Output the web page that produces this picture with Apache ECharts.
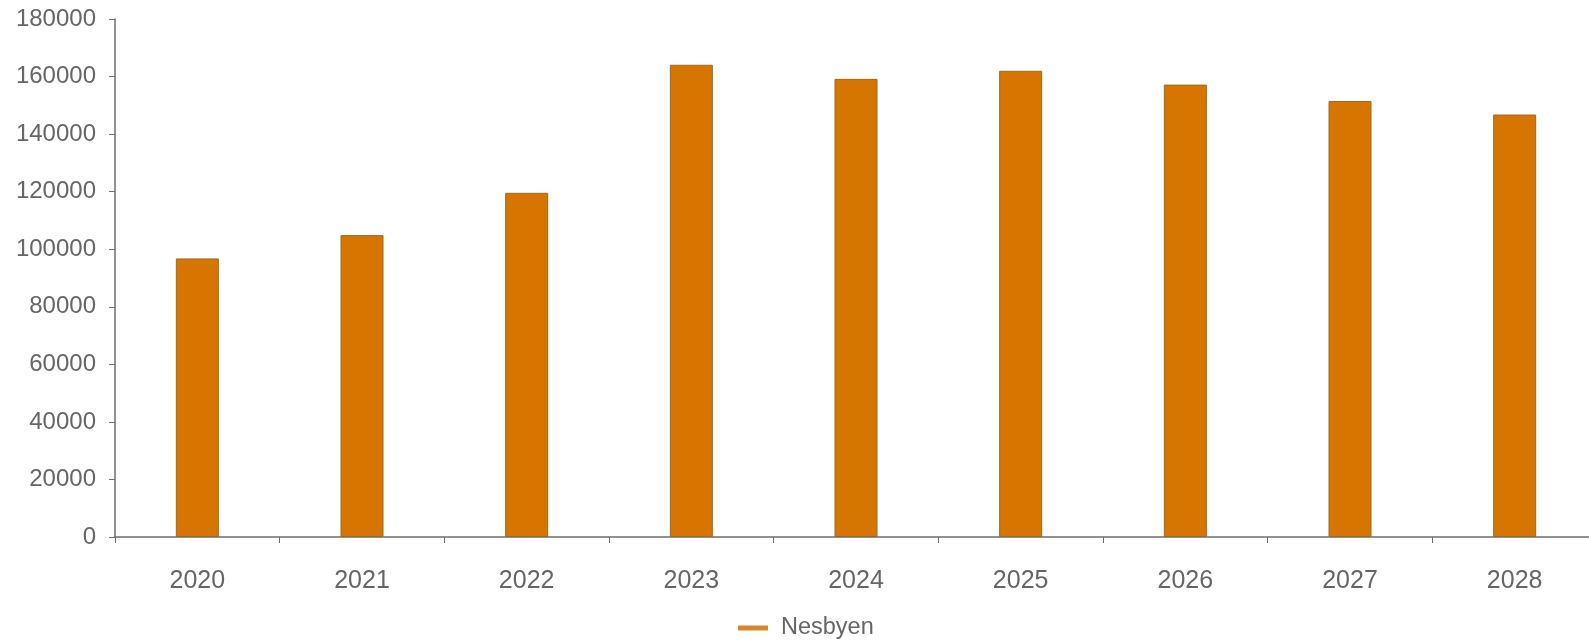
<!DOCTYPE html>
<html>
<head>
<meta charset="utf-8">
<script src="https://cdn.jsdelivr.net/npm/echarts@6/dist/echarts.min.js"></script>
<style>html,body{margin:0;padding:0;background:#fff;overflow:hidden}#c{width:1589px;height:643px}</style>
</head>
<body>
<div id="c"></div>
<script>
const categories = ['2020','2021','2022','2023','2024','2025','2026','2027','2028'];
const seriesName = 'Nesbyen';
const values = [96800, 104900, 119600, 164100, 159200, 162000, 157200, 151500, 146800];
const yTicks = { min: 0, max: 180000, interval: 20000 };

const chart = echarts.init(document.getElementById('c'));
const font = 'Liberation Sans, Arial, sans-serif';
chart.setOption({
  animation: false,
  grid: { left: 115, width: 1482, top: 19, bottom: 106, containLabel: false, outerBoundsMode: 'none' },
  legend: {
    top: 611, left: 733,
    data: [{ name: seriesName, icon: 'rect' }],
    itemWidth: 30, itemHeight: 5, itemGap: 10,
    itemStyle: { borderWidth: 0, color: '#d9862a' },
    textStyle: { color: '#666', fontSize: 23.5, fontFamily: font, padding: [0, 0, 0, 8] }
  },
  xAxis: {
    type: 'category', data: categories,
    axisLine: { lineStyle: { color: '#6e6e6e', width: 1.5 } },
    axisTick: { show: true, length: 6, lineStyle: { color: '#6e6e6e' } },
    axisLabel: { color: '#666', fontSize: 25, fontFamily: font, margin: 32 }
  },
  yAxis: {
    type: 'value', min: yTicks.min, max: yTicks.max, interval: yTicks.interval,
    axisLine: { show: true, lineStyle: { color: '#6e6e6e', width: 1.5 } },
    axisTick: { show: true, length: 6, lineStyle: { color: '#6e6e6e' } },
    splitLine: { show: false },
    axisLabel: { color: '#666', fontSize: 24, fontFamily: font, margin: 19, formatter: v => String(v) }
  },
  series: [{
    name: seriesName, type: 'bar', data: values, barWidth: 43,
    itemStyle: { color: '#d67600', borderColor: '#9c6a1e', borderWidth: 1 }
  }]
});
</script>
</body>
</html>
